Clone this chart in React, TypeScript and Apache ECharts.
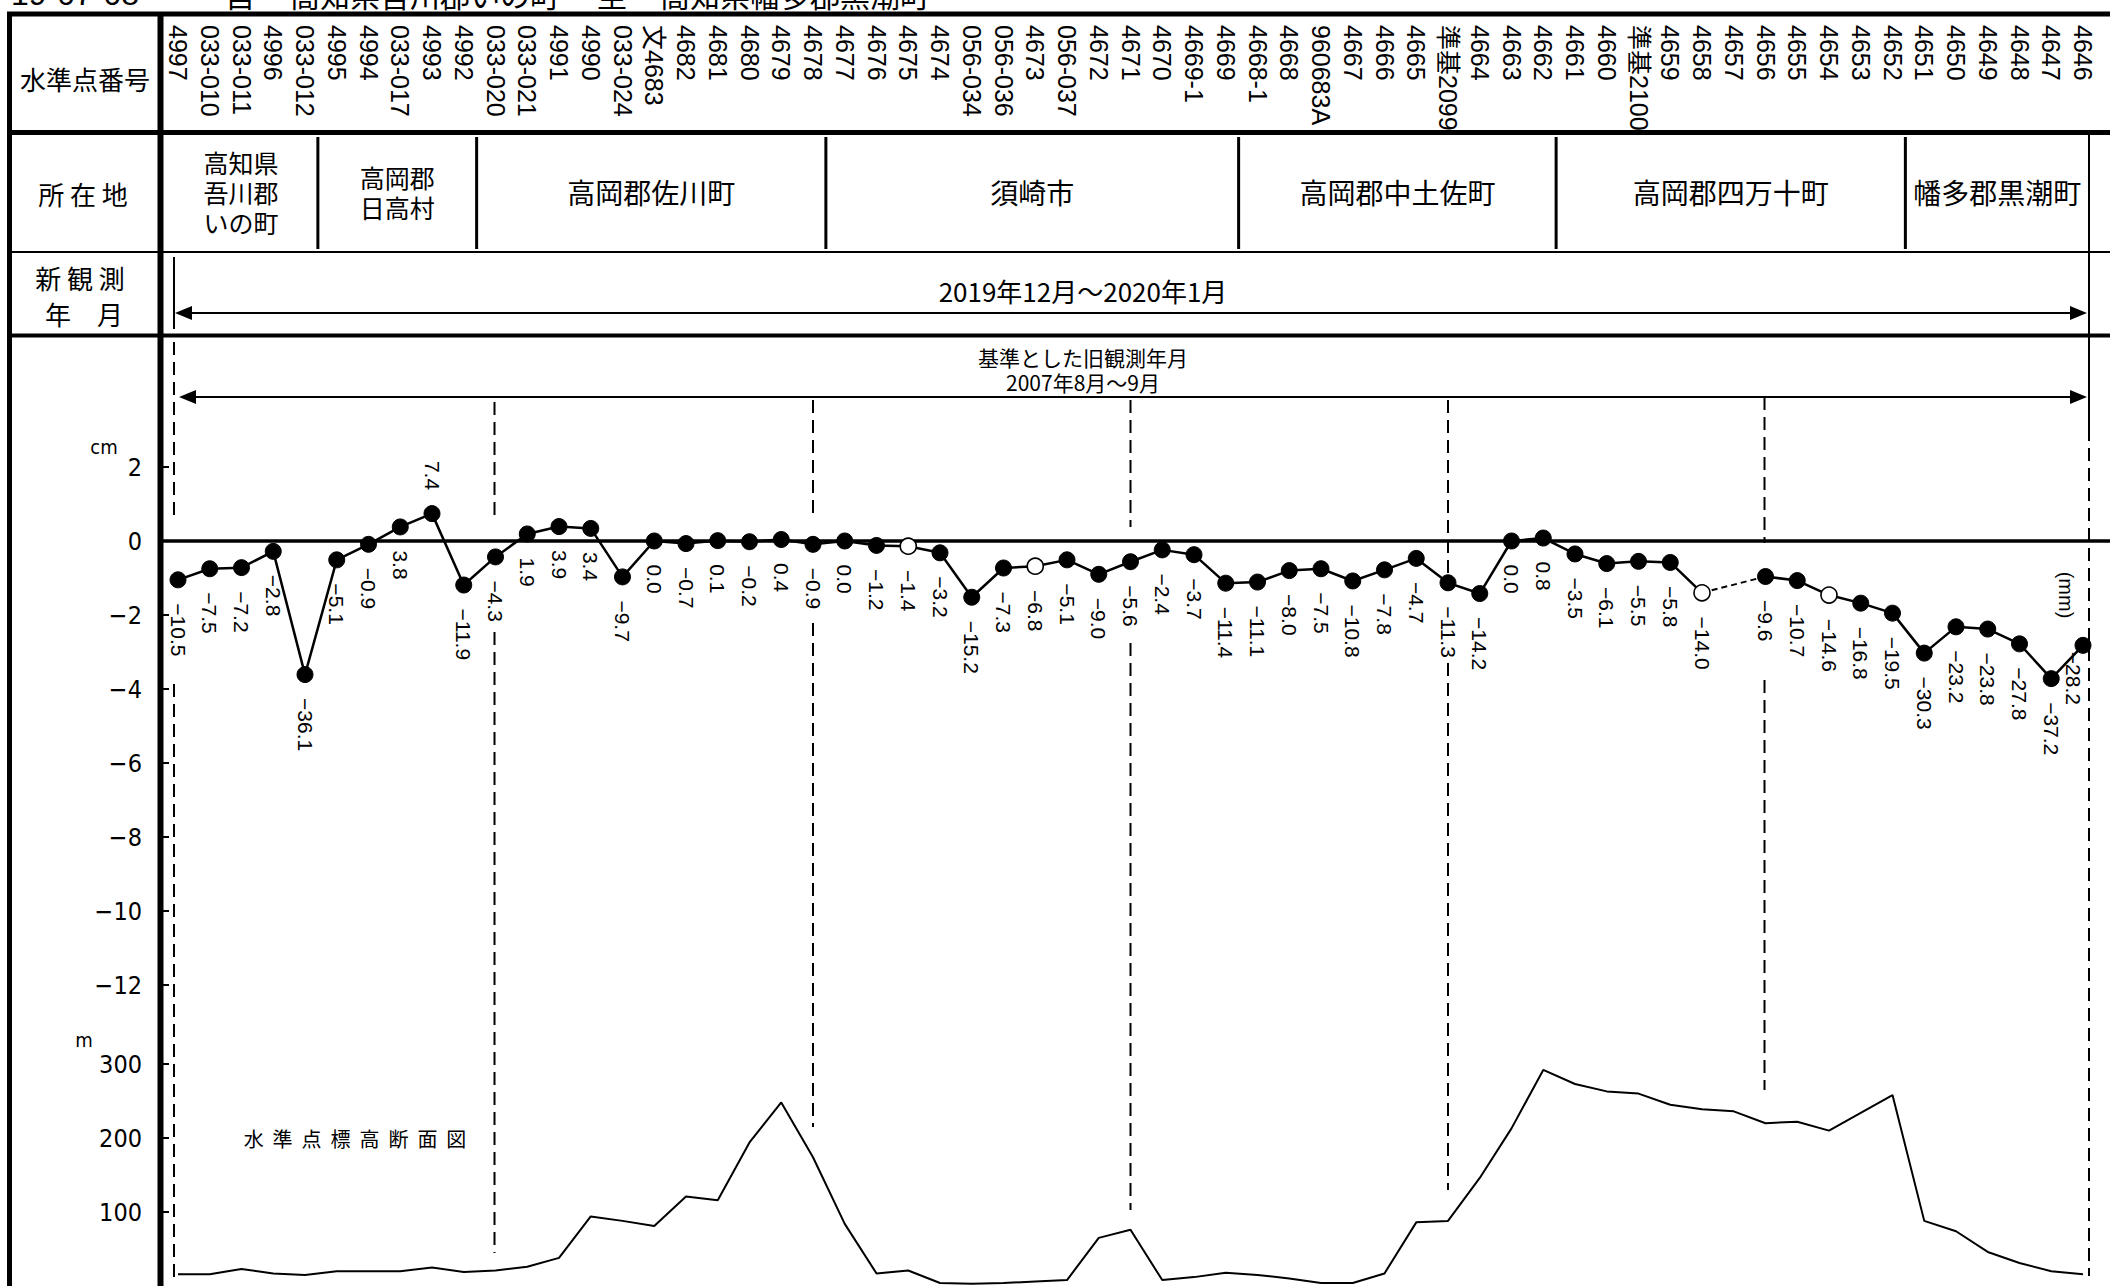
import React, { useEffect, useRef } from "react";
import * as echarts from "echarts";

// ---------------- data ----------------
const stationIds = [
  "4997", "033-010", "033-011", "4996", "033-012", "4995", "4994", "033-017", "4993", "4992",
  "033-020", "033-021", "4991", "4990", "033-024", "文4683", "4682", "4681", "4680", "4679",
  "4678", "4677", "4676", "4675", "4674", "056-034", "056-036", "4673", "056-037", "4672",
  "4671", "4670", "4669-1", "4669", "4668-1", "4668", "960683A", "4667", "4666", "4665",
  "準基2099", "4664", "4663", "4662", "4661", "4660", "準基2100", "4659", "4658", "4657",
  "4656", "4655", "4654", "4653", "4652", "4651", "4650", "4649", "4648", "4647", "4646",
];

// displacement in mm (null = not observed)
const dispMm: (number | null)[] = [
  -10.5, -7.5, -7.2, -2.8, -36.1, -5.1, -0.9, 3.8, 7.4, -11.9,
  -4.3, 1.9, 3.9, 3.4, -9.7, 0.0, -0.7, 0.1, -0.2, 0.4,
  -0.9, 0.0, -1.2, -1.4, -3.2, -15.2, -7.3, -6.8, -5.1, -9.0,
  -5.6, -2.4, -3.7, -11.4, -11.1, -8.0, -7.5, -10.8, -7.8, -4.7,
  -11.3, -14.2, 0.0, 0.8, -3.5, -6.1, -5.5, -5.8, -14.0, null,
  -9.6, -10.7, -14.6, -16.8, -19.5, -30.3, -23.2, -23.8, -27.8, -37.2,
  -28.2,
];

// benchmark elevation in m
const elevM = [
  16, 16, 23, 17, 15, 20, 20, 20, 25, 19,
  21, 26, 38, 94, 88, 81, 121, 116, 194, 248,
  174, 84, 17, 21, 4, 3, 4, 6, 8, 65,
  76, 8, 12, 18, 15, 10, 4, 4, 17, 86,
  88, 146, 213, 292, 273, 263, 260, 245, 239, 236,
  220, 222, 210, 234, 258, 88, 74, 46, 31, 20,
  16,
];

const openIds = ["4675", "4673", "4658", "4654"];
const bridgeIds = ["4658", "4656"]; // dashed link over the unobserved 4657

const districtNames = [
  ["高知県", "吾川郡", "いの町"],
  ["高岡郡", "日高村"],
  ["高岡郡佐川町"],
  ["須崎市"],
  ["高岡郡中土佐町"],
  ["高岡郡四万十町"],
  ["幡多郡黒潮町"],
];
const districtLastIds = ["033-012", "4992", "4678", "4669", "4662", "4652"];

const sectionIds = ["4997", "033-020", "4678", "4671", "準基2099", "4656", "4646"];

const dispAxis = { min: -12, max: 2, step: 2 };
const elevAxis = { min: 0, max: 300, step: 100 };

// ---------------- style / layout ----------------
const JP = '"Noto Sans CJK JP", "Noto Sans CJK SC", sans-serif';
const SANS = '"Liberation Sans", Arial, "Noto Sans CJK JP", sans-serif';
const NARROW = '"Liberation Sans Narrow", "DejaVu Sans Condensed", "Liberation Sans", sans-serif';

const W = 2110;
const H = 1286;
const GRID_L = 178;
const GRID_R = 27;

const sectionLayout: { dx: number; solid: number[][]; dashed: number[][] }[] = [
  { dx: -4, solid: [], dashed: [[342, 516], [684, 1280]] },
  { dx: -1, solid: [], dashed: [[402, 516], [632, 1253]] },
  { dx: 0, solid: [], dashed: [[400, 517], [623, 1127]] },
  { dx: 0, solid: [], dashed: [[400, 527], [643, 1210]] },
  { dx: 0, solid: [], dashed: [[400, 577], [663, 1190]] },
  { dx: -1, solid: [], dashed: [[397, 543], [680, 1090]] },
  { dx: 6, solid: [[135, 428]], dashed: [[428, 1276]] },
];

const fmtMm = (v: number) => (v < 0 ? "−" : "") + Math.abs(v).toFixed(1);

export default function App() {
  const ref = useRef<HTMLDivElement>(null);

  useEffect(() => {
    document.body.style.margin = "0";
    const chart = echarts.init(ref.current!, undefined, { renderer: "svg" });

    const dispData = dispMm.map((v, i) => {
      if (v == null) return null;
      const id = stationIds[i];
      const item: any = { value: v / 10 };
      if (openIds.includes(id)) {
        item.itemStyle = { color: "#fff", borderColor: "#000", borderWidth: 1.6 };
      }
      if (v > 5) {
        item.label = { position: "top", align: "right" };
      }
      if (i === stationIds.length - 1) {
        item.label = { offset: [-17, 10] };
      }
      return item;
    });

    const bridgeData = dispMm.map((v, i) =>
      bridgeIds.includes(stationIds[i]) && v != null ? v / 10 : null
    );

    const option: any = {
      animation: false,
      grid: [
        { left: GRID_L, right: GRID_R, top: 467, height: 518 },
        { left: GRID_L, right: GRID_R, top: 1064, height: 224 },
        { left: GRID_L, right: GRID_R, top: 0, height: 18 },
      ],
      xAxis: [
        { type: "category", gridIndex: 0, data: stationIds, boundaryGap: false, show: false },
        { type: "category", gridIndex: 1, data: stationIds, boundaryGap: false, show: false },
        {
          type: "category",
          gridIndex: 2,
          data: stationIds,
          boundaryGap: false,
          position: "bottom",
          axisLine: { show: false, onZero: false },
          axisTick: { show: false },
          splitLine: { show: false },
          axisLabel: {
            interval: 0,
            rotate: -90,
            margin: 7,
            fontSize: 25,
            fontFamily: SANS,
            color: "#000",
          },
        },
      ],
      yAxis: [
        {
          type: "value",
          gridIndex: 0,
          min: dispAxis.min,
          max: dispAxis.max,
          interval: dispAxis.step,
          offset: 18,
          axisLine: { show: false },
          axisTick: { show: true, inside: true, length: 9, lineStyle: { color: "#000", width: 2 } },
          axisLabel: {
            margin: 18,
            fontSize: 25,
            fontFamily: NARROW,
            color: "#000",
            formatter: (v: number) => (v < 0 ? "−" + Math.abs(v) : String(v)),
          },
          splitLine: { show: false },
        },
        {
          type: "value",
          gridIndex: 1,
          min: elevAxis.min,
          max: elevAxis.max,
          interval: elevAxis.step,
          offset: 18,
          axisLine: { show: false },
          axisTick: { show: true, inside: true, length: 9, lineStyle: { color: "#000", width: 2 } },
          axisLabel: {
            margin: 18,
            fontSize: 25,
            fontFamily: NARROW,
            color: "#000",
            showMinLabel: false,
          },
          splitLine: { show: false },
        },
        { type: "value", gridIndex: 2, show: false, min: 0, max: 1 },
      ],
      series: [
        {
          type: "line",
          name: "bridge",
          xAxisIndex: 0,
          yAxisIndex: 0,
          data: bridgeData,
          connectNulls: true,
          symbol: "none",
          silent: true,
          z: 2,
          lineStyle: { color: "#000", width: 2, type: [6, 4] },
        },
        {
          type: "line",
          name: "変動量",
          xAxisIndex: 0,
          yAxisIndex: 0,
          data: dispData,
          connectNulls: false,
          symbol: "circle",
          symbolSize: 16,
          z: 3,
          lineStyle: { color: "#000", width: 2.5 },
          itemStyle: { color: "#000", borderColor: "#000", borderWidth: 1 },
          label: {
            show: true,
            position: "bottom",
            distance: 15,
            rotate: -90,
            align: "left",
            verticalAlign: "middle",
            fontSize: 21,
            fontFamily: SANS,
            color: "#000",
            formatter: (p: any) => fmtMm(dispMm[p.dataIndex] as number),
          },
        },
        {
          type: "line",
          name: "標高",
          xAxisIndex: 1,
          yAxisIndex: 1,
          data: elevM,
          symbol: "none",
          silent: true,
          z: 2,
          lineStyle: { color: "#000", width: 2 },
        },
      ],
    };

    chart.setOption(option);

    // ----- table frame, texts and guide lines -----
    const xs = stationIds.map((_, i) => chart.convertToPixel({ xAxisIndex: 0 }, i) as number);
    const idx = (id: string) => stationIds.indexOf(id);
    const y0 = chart.convertToPixel({ yAxisIndex: 0 }, 0) as number;
    const xRight = xs[xs.length - 1] + 6;

    const g: any[] = [];
    const line = (x1: number, y1: number, x2: number, y2: number, w: number, dash?: number[]) =>
      g.push({
        type: "line",
        silent: true,
        z: 0,
        shape: { x1, y1, x2, y2 },
        style: { stroke: "#000", lineWidth: w, lineDash: dash || null },
      });
    const text = (
      t: string,
      x: number,
      y: number,
      size: number,
      font: string,
      align = "center",
      vAlign = "middle",
      extra: any = {}
    ) =>
      g.push({
        type: "text",
        silent: true,
        z: 1,
        x,
        y,
        ...extra,
        style: {
          text: t,
          fill: "#000",
          font: `${size}px ${font}`,
          align,
          verticalAlign: vAlign,
        },
      });
    const arrow = (x1: number, x2: number, y: number) => {
      line(x1 + 10, y, x2 - 10, y, 2);
      g.push({
        type: "polygon",
        silent: true,
        z: 0,
        shape: { points: [[x1, y], [x1 + 17, y - 7], [x1 + 17, y + 7]] },
        style: { fill: "#000" },
      });
      g.push({
        type: "polygon",
        silent: true,
        z: 0,
        shape: { points: [[x2, y], [x2 - 17, y - 7], [x2 - 17, y + 7]] },
        style: { fill: "#000" },
      });
    };

    // top (cut-off) caption
    text("19-07-08", 11, 10, 32, SANS, "left", "bottom");
    text("自", 240, 9, 30, JP, "center", "bottom");
    text("高知県吾川郡いの町", 290, 9, 30, JP, "left", "bottom");
    text("至", 612, 9, 30, JP, "center", "bottom");
    text("高知県幡多郡黒潮町", 660, 9, 30, JP, "left", "bottom");

    // frame
    line(7, 14, W, 14, 5);
    line(9.5, 12, 9.5, H, 5);
    line(160.5, 12, 160.5, H, 6);
    line(7, 132.5, W, 132.5, 5);
    line(7, 252, W, 252, 2);
    line(7, 335.5, W, 335.5, 4);

    // header column
    text("水準点番号", 85, 78, 26, JP);
    text("所 在 地", 83, 193, 26, JP);
    text("新 観 測", 80, 277, 26, JP);
    text("年　月", 84, 313, 26, JP);

    // districts
    const bx = districtLastIds.map((id) => (xs[idx(id)] + xs[idx(id) + 1]) / 2 - 3);
    const bounds = [164, ...bx, xRight];
    bx.forEach((x) => line(x, 137, x, 249, 3));
    districtNames.forEach((lines, i) => {
      const cx = (bounds[i] + bounds[i + 1]) / 2;
      const size = lines.length > 1 ? 25 : 28;
      const lh = 30;
      lines.forEach((t, k) => {
        text(t, cx, 192 + (k - (lines.length - 1) / 2) * lh, size, JP);
      });
    });

    // new observation period
    line(xs[0] - 4, 257, xs[0] - 4, 329, 2);
    arrow(xs[0] - 3, xRight - 2, 313);
    text("2019年12月～2020年1月", 1083, 290, 26, JP);

    // reference period
    text("基準とした旧観測年月", 1083, 357, 21, JP);
    text("2007年8月～9月", 1083, 382, 21, JP);
    arrow(xs[0] + 1, xRight - 2, 397);

    // section guide lines
    sectionIds.forEach((id, k) => {
      const s = sectionLayout[k];
      const x = xs[idx(id)] + s.dx;
      s.solid.forEach(([a, b]) => line(x, a, x, b, 2));
      s.dashed.forEach(([a, b]) => line(x, a, x, b, 2, [13, 7]));
    });

    // zero line
    line(163, y0, W, y0, 3.5);

    // unit texts
    text("cm", 104, 447, 20, NARROW);
    text("m", 84, 1040, 20, NARROW);
    text("(mm)", 2066, 595, 20, SANS, "center", "middle", { rotation: -Math.PI / 2 });
    text("水  準  点  標  高  断  面  図", 355, 1138, 20, JP);

    chart.setOption({ graphic: { elements: g } });

    return () => chart.dispose();
  }, []);

  return (
    <div
      ref={ref}
      style={{ position: "absolute", left: 0, top: 0, width: W, height: H, background: "#fff" }}
    />
  );
}
